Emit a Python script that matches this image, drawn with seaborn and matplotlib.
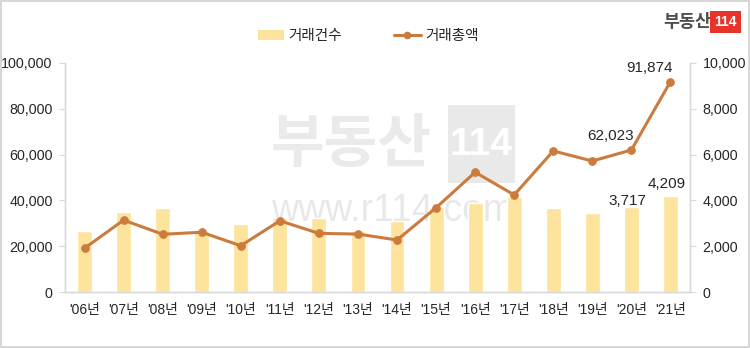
import numpy as np
import pandas as pd
import matplotlib
matplotlib.use("Agg")
import matplotlib.pyplot as plt
from matplotlib.patches import Patch, Rectangle
from matplotlib.lines import Line2D
import seaborn as sns

# Yearly transactions: count (bars, right axis) and total amount (line, left axis)
years = ["'06년", "'07년", "'08년", "'09년", "'10년", "'11년", "'12년", "'13년",
         "'14년", "'15년", "'16년", "'17년", "'18년", "'19년", "'20년", "'21년"]
trade_count = [2660, 3480, 3680, 2650, 2960, 3240, 3240, 2650,
               3110, 3730, 3870, 4150, 3680, 3440, 3717, 4209]
trade_amount = [19100, 31400, 25200, 26100, 20200, 31100, 25600, 25300,
                22700, 36800, 52300, 42400, 61600, 57200, 62023, 91874]

left_ticks = [0, 20000, 40000, 60000, 80000, 100000]
right_ticks = [0, 2000, 4000, 6000, 8000, 10000]

sns.set_theme(style="white")
plt.rcParams["font.family"] = ["Liberation Sans", "Noto Sans CJK KR", "DejaVu Sans"]

BAR_COLOR = "#FDE49C"
LINE_COLOR = "#CB7B3E"
SPINE_COLOR = "#D9D9D9"
TEXT_COLOR = "#262626"
W, H = 750, 348


def fx(px):
    return px / W


def fy(py):
    return 1 - py / H


df = pd.DataFrame({"year": years, "count": trade_count, "amount": trade_amount,
                   "pos": np.arange(len(years))})

fig = plt.figure(figsize=(7.5, 3.48), dpi=100)
fig.patch.set_facecolor("white")

# faint watermark behind the plot
fig.text(fx(351), fy(145), "부동산", ha="center", va="center",
         fontsize=42, fontweight="bold", color="#DCDCDC", alpha=0.6,
         family=["Noto Sans CJK KR"], zorder=-5)
fig.patches.append(Rectangle((fx(448), fy(183)), fx(515) - fx(448), fy(105) - fy(183),
                             transform=fig.transFigure, facecolor="#E9E9E9",
                             edgecolor="none", zorder=-6))
fig.text(fx(481.5), fy(145), "114", ha="center", va="center",
         fontsize=28, fontweight="bold", color="white", zorder=-5)
fig.text(fx(393), fy(211), "www.r114.com", ha="center", va="center",
         fontsize=27, color="#DADADA", alpha=0.6, zorder=-5)

ax = fig.add_axes([fx(65), fy(292), fx(690) - fx(65), fy(63) - fy(292)])
ax2 = ax.twinx()
ax.set_facecolor("none")
ax2.set_facecolor("none")

# bars: transaction count on the right-hand scale
sns.barplot(data=df, x="year", y="count", color=BAR_COLOR, width=0.38,
            saturation=1, ax=ax, zorder=2)
ax.set_ylim(0, 10000)
ax.set_xlim(-0.5, len(years) - 0.5)
ax.set_yticks(right_ticks)
ax.set_yticklabels([f"{v:,}" for v in right_ticks])

# line: total amount on the left-hand scale
sns.lineplot(data=df, x="pos", y="amount", color=LINE_COLOR, linewidth=2.2,
             marker="o", markersize=5.5, markeredgecolor=LINE_COLOR, ax=ax2)
ax2.set_ylim(0, 100000)
ax2.set_yticks(left_ticks)
ax2.set_yticklabels([f"{v:,}" for v in left_ticks])
ax2.set_xlim(-0.5, len(years) - 0.5)

# swap sides: count scale on the right, amount scale on the left
ax.yaxis.tick_right()
ax.yaxis.set_label_position("right")
ax2.yaxis.tick_left()
ax2.yaxis.set_label_position("left")

for a in (ax, ax2):
    a.set_xlabel("")
    a.set_ylabel("")
    a.spines["top"].set_visible(False)
    for s in ("left", "right", "bottom"):
        a.spines[s].set_color(SPINE_COLOR)
        a.spines[s].set_linewidth(1.0)
    a.tick_params(axis="y", length=4, width=0.8, color=SPINE_COLOR,
                  labelsize=10.3, labelcolor=TEXT_COLOR, pad=5)
    a.tick_params(axis="x", length=0, labelsize=10, labelcolor=TEXT_COLOR, pad=8)
    a.grid(False)

ax.set_xticks(np.arange(len(years)))
ax.set_xticklabels(years)

# value labels for the last years
ax2.annotate(f"{trade_amount[-1]:,}", (15, trade_amount[-1]), xytext=(-15, 5),
             textcoords="offset points", ha="center", va="bottom",
             fontsize=11, color=TEXT_COLOR)
ax2.annotate(f"{trade_amount[-2]:,}", (14, trade_amount[-2]), xytext=(-15, 5),
             textcoords="offset points", ha="center", va="bottom",
             fontsize=11, color=TEXT_COLOR)
ax.annotate(f"{trade_count[-1]:,}", (15, trade_count[-1]), xytext=(-3, 3),
            textcoords="offset points", ha="center", va="bottom",
            fontsize=11, color=TEXT_COLOR)
ax.annotate(f"{trade_count[-2]:,}", (14, trade_count[-2]), xytext=(-3, -1),
            textcoords="offset points", ha="center", va="bottom",
            fontsize=11, color=TEXT_COLOR)

# legend
handles = [Patch(facecolor=BAR_COLOR, edgecolor="none", label="거래건수"),
           Line2D([0], [0], color=LINE_COLOR, linewidth=2.2, marker="o",
                  markersize=4.5, label="거래총액")]
fig.legend(handles=handles, loc="center", bbox_to_anchor=(fx(368), fy(36)),
           ncol=2, frameon=False, handlelength=1.8,
           handletextpad=0.3, columnspacing=3.6,
           prop={"family": ["Noto Sans CJK KR"], "size": 10.5})

# brand mark
fig.text(fx(711), fy(22), "부동산", ha="right", va="center",
         fontsize=12.5, fontweight="bold", color="#4D4D4D",
         family=["Noto Sans CJK KR"])
fig.text(fx(725.5), fy(22), "114", ha="center", va="center",
         fontsize=10, fontweight="bold", color="white",
         bbox=dict(boxstyle="square,pad=0.28", facecolor="#E8332A", edgecolor="none"))

# outer frame
fig.patches.append(Rectangle((0.001, 0.002), 0.997, 0.996, transform=fig.transFigure,
                             fill=False, edgecolor="#D0D0D0", linewidth=1.2))

fig.savefig("out.png", dpi=100)
